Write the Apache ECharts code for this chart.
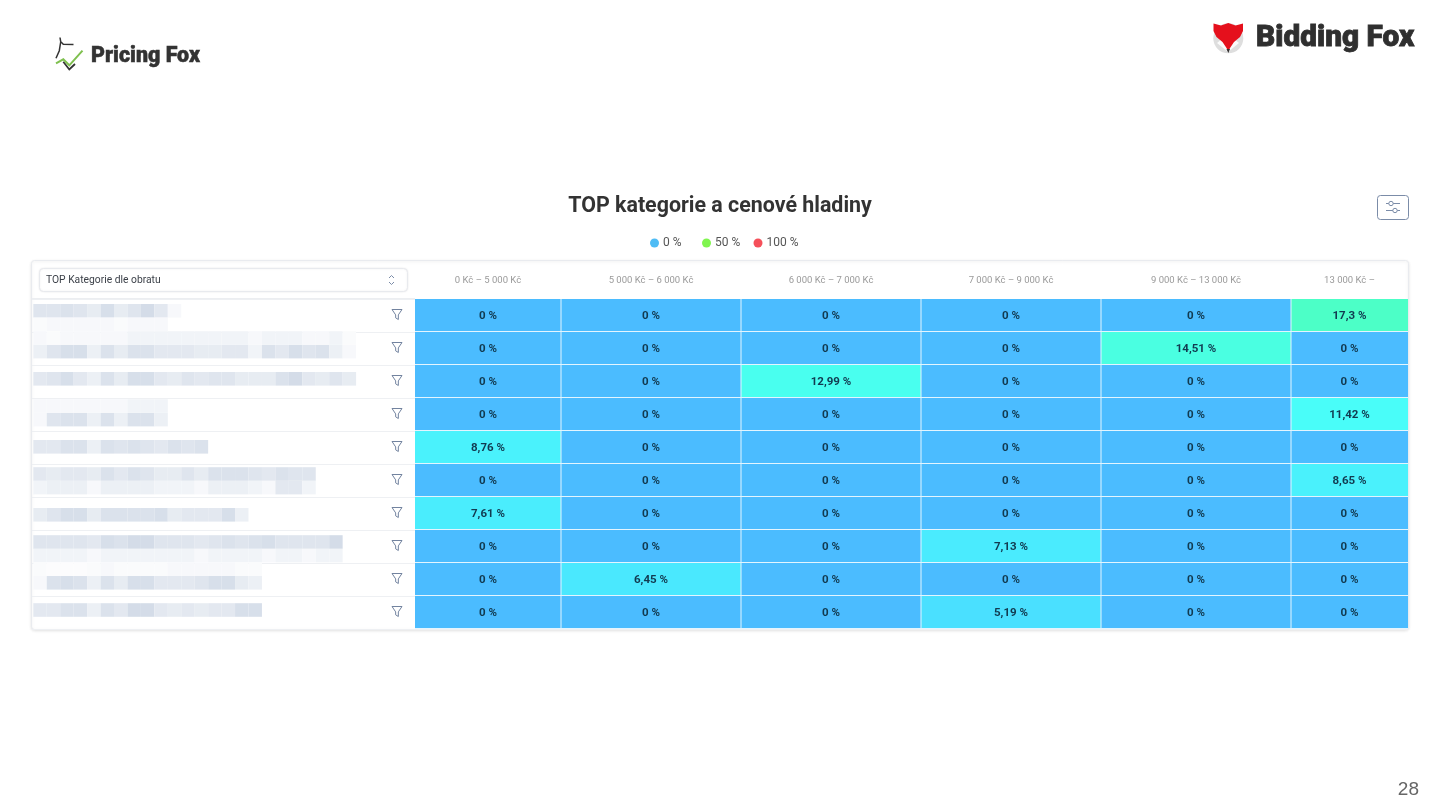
<!DOCTYPE html>
<html><head><meta charset="utf-8">
<style>html,body{margin:0;padding:0;background:#fff}#c{width:1440px;height:810px}</style>
<script src="https://cdn.jsdelivr.net/npm/echarts@6/dist/echarts.min.js"></script>
</head><body><div id="c"></div>
<script>
// ---- data ----
const priceBands = ['0 Kč – 5 000 Kč','5 000 Kč – 6 000 Kč','6 000 Kč – 7 000 Kč','7 000 Kč – 9 000 Kč','9 000 Kč – 13 000 Kč','13 000 Kč –'];
const bandEdges = [0,146,326,506,686,876,993];           // column boundaries on the x axis
const categories = ['Kategorie 1','Kategorie 2','Kategorie 3','Kategorie 4','Kategorie 5','Kategorie 6','Kategorie 7','Kategorie 8','Kategorie 9','Kategorie 10'];
const shares = [
  [0,0,0,0,0,17.3],
  [0,0,0,0,14.51,0],
  [0,0,12.99,0,0,0],
  [0,0,0,0,0,11.42],
  [8.76,0,0,0,0,0],
  [0,0,0,0,0,8.65],
  [7.61,0,0,0,0,0],
  [0,0,0,7.13,0,0],
  [0,6.45,0,0,0,0],
  [0,0,0,5.19,0,0]
];
const legendItems = ['0 %','50 %','100 %'];
const legendColors = ['#4ebcf5','#80f54f','#f5505a'];
const scaleColors = ['#4bbcff','#4ae6ff','#49fff8','#4cffc0'];
const scaleMax = 18;
// pixelated (censored) row names: band index + tile shades 0-10
const maskBands = [0,3,5,8,10,12,15,17,20,22];
const maskShades = [
  [6,6,7,6,4,8,4,6,9,5,1],
  [3,6,8,8,3,7,4,7,7,5,5,5,4,4,5,5,2,7,5,8,6,7,3,1],
  [5,6,8,5,3,7,4,8,8,5,4,6,5,6,6,4,4,4,7,9,5,4,6,4],
  [1,6,7,7,3,7,3,7,7,3],
  [5,5,7,7,3,7,6,7,6,5,7,6,7],
  [5,4,5,5,4,7,5,7,6,4,4,6,4,7,7,7,6,5,7,6,6],
  [4,6,8,8,4,7,7,7,7,8,4,5,5,5,8,3],
  [6,6,6,6,5,8,7,9,9,6,6,6,5,6,7,6,7,8,6,6,6,6,9],
  [1,7,8,7,3,7,4,8,8,5,5,5,6,8,8,4,3],
  [5,5,7,7,3,7,5,9,9,5,4,5,4,5,5,8,8]
];
const faintBands = [1,2,7,13,18,19];
const faintShades = [
  [.5,1,1,1,1,1,.5,1,1,1],
  [1,.5,1,1,1,1,1,2,2,2,2,2,2,2,2,2,1,2,2,2,1,1,2,.5],
  [1,1,1,1,1,1,1,2,2,2],
  [2,3,3,3,1,3,3,3,3,2,2,2,1,3,3,3,2,1,5,5,2],
  [2,2,2,2,1,2,2,2,2,2,2,2,1,2,2,2,2,1,2,2,1,2,2],
  [.5,.3,.3,.3,.5,1,.5,.5,.5,.5,1,1,1,1,1,.5,.5]
];

// ---- build series data ----
const cells = [];
shares.forEach((row,r)=>row.forEach((v,c)=>cells.push([bandEdges[c],bandEdges[c+1],r,v])));
const bandCentres = priceBands.map((_,i)=>(bandEdges[i]+bandEdges[i+1])/2);
const tiles = [];
maskBands.forEach((b,i)=>maskShades[i].forEach((s,t)=>tiles.push([t,b,s])));
faintBands.forEach((b,i)=>faintShades[i].forEach((s,t)=>tiles.push([t,b,s])));
const fmt = v => String(v).replace('.',',')+' %';
const shade = s => { const k=Math.pow(s/10,.75), m=(a,b)=>Math.round(a+(b-a)*k);
  return `rgb(${m(255,208)},${m(255,217)},${m(255,230)})`; };

const chart = echarts.init(document.getElementById('c'),null,{renderer:'canvas'});
const ROBOTO='Roboto, "Liberation Sans", sans-serif';
const slate='#7b8ca8';

const graphics = [
  // table card
  {type:'rect',z:0,shape:{x:31.5,y:260.5,width:1377,height:369,r:3},
   style:{fill:'#fff',stroke:'#e9ebef',lineWidth:1,shadowBlur:3,shadowOffsetY:1,shadowColor:'rgba(0,0,0,.10)'}},
  {type:'line',z:0,shape:{x1:32,y1:298.5,x2:415,y2:298.5},style:{stroke:'#eceef1',lineWidth:1}},
  // sort dropdown
  {type:'rect',z:1,shape:{x:39.5,y:268.5,width:368,height:23,r:4},
   style:{fill:'#fff',stroke:'#e8eaee',lineWidth:1,shadowBlur:2,shadowColor:'rgba(0,0,0,.08)'}},
  {type:'text',z:3,style:{x:46,y:280.5,text:'TOP Kategorie dle obratu',fill:'#3a3f47',font:'400 10.3px '+ROBOTO,textVerticalAlign:'middle'}},
  {type:'polyline',z:3,shape:{points:[[389,278],[391.5,275.5],[394,278]]},style:{stroke:slate,fill:'none',lineWidth:1}},
  {type:'polyline',z:3,shape:{points:[[389,282],[391.5,284.5],[394,282]]},style:{stroke:slate,fill:'none',lineWidth:1}},
  // settings button
  {type:'rect',z:3,shape:{x:1377.5,y:195.5,width:31,height:24,r:3},style:{fill:'#fff',stroke:slate,lineWidth:1}},
  {type:'line',z:4,shape:{x1:1386,y1:203.5,x2:1400,y2:203.5},style:{stroke:slate,lineWidth:1}},
  {type:'line',z:4,shape:{x1:1386,y1:210.5,x2:1400,y2:210.5},style:{stroke:slate,lineWidth:1}},
  {type:'circle',z:5,shape:{cx:1391,cy:203.5,r:2.2},style:{fill:'#fff',stroke:slate,lineWidth:1}},
  {type:'circle',z:5,shape:{cx:1395,cy:210.5,r:2.2},style:{fill:'#fff',stroke:slate,lineWidth:1}},
  // Pricing Fox logo
  {type:'polyline',z:3,shape:{points:[[60,37.5],[60.7,41.7],[63.3,44.3],[73.5,44.5]]},style:{stroke:'#333',fill:'none',lineWidth:1.5}},
  {type:'polyline',z:3,shape:{points:[[60.7,42],[59.3,50.7],[56,58.3]]},style:{stroke:'#333',fill:'none',lineWidth:1.5}},
  {type:'polyline',z:3,shape:{points:[[63.3,61.7],[69.3,69.5],[75,64]]},style:{stroke:'#333',fill:'none',lineWidth:1.8}},
  {type:'polyline',z:4,shape:{points:[[56,63.3],[63.3,59.3],[69.3,65.3],[82.5,50.7]]},style:{stroke:'#7fc04f',fill:'none',lineWidth:2}},
  {type:'text',z:3,style:{x:91,y:57,text:'Pricing Fox',fill:'#333',stroke:'#333',lineWidth:.5,font:'900 21.4px '+ROBOTO,textVerticalAlign:'middle'}},
  // Bidding Fox logo
  {type:'circle',z:3,shape:{cx:1228.3,cy:38.3,r:15},style:{fill:'#dedede'}},
  {type:'polygon',z:4,shape:{points:[[1217,43],[1228,52],[1239,43],[1228,34]]},style:{fill:'#fbfbfb'}},
  {type:'polygon',z:5,shape:{points:[[1213.5,23.5],[1221,25.5],[1228.3,23],[1235.5,25.5],[1243,23.5],[1243,31],[1240,37],[1234,42],[1230,48],[1228.3,51.5],[1226.5,48],[1222.5,42],[1216.5,37],[1213.5,31]]},style:{fill:'#e5101c'}},
  {type:'polygon',z:6,shape:{points:[[1226.5,49],[1230,49],[1228.3,53]]},style:{fill:'#333'}},
  {type:'text',z:3,style:{x:1256,y:39,text:'Bidding Fox',fill:'#2f2f2f',stroke:'#2f2f2f',lineWidth:.8,font:'900 29.8px '+ROBOTO,textVerticalAlign:'middle'}},
  // page number
  {type:'text',z:3,style:{x:1419,y:790,text:'28',fill:'#666',font:'19px "Liberation Sans", Arial, sans-serif',textAlign:'right',textVerticalAlign:'middle'}}
];

chart.setOption({
  animation:false,
  backgroundColor:'#fff',
  title:{text:'TOP kategorie a cenové hladiny',left:'center',top:191,
    textStyle:{fontFamily:ROBOTO,fontWeight:700,fontSize:21.4,color:'#333'}},
  legend:[645,697,748.5].map((left,i)=>({
    data:[legendItems[i]],left,top:232,itemWidth:9,itemHeight:9,icon:'circle',selectedMode:false,
    textStyle:{fontFamily:ROBOTO,fontSize:12,color:'#555',padding:[0,0,2,-1]}
  })),
  grid:[
    {left:32,top:299,width:1376,height:330,containLabel:false},
    {left:33.3,top:304,width:27*13.45,height:24*13.6}
  ],
  xAxis:[
    {type:'value',gridIndex:0,position:'top',min:-383,max:993,splitLine:{show:false},axisLine:{show:false},axisTick:{show:false},
     axisLabel:{customValues:bandCentres,formatter:v=>priceBands[bandCentres.indexOf(v)]||'',margin:13,fontFamily:ROBOTO,fontSize:9.5,color:'#9a9a9a'}},
    {type:'value',gridIndex:1,min:0,max:27,show:false}
  ],
  yAxis:[
    {type:'category',gridIndex:0,inverse:true,data:categories,axisLine:{show:false},axisTick:{show:false},axisLabel:{show:false},
     splitLine:{show:true,lineStyle:{color:'#eef0f3'}}},
    {type:'value',gridIndex:1,inverse:true,min:0,max:24,show:false}
  ],
  visualMap:{show:false,type:'continuous',seriesIndex:0,dimension:3,min:0,max:scaleMax,inRange:{color:scaleColors}},
  series:[
    {type:'custom',xAxisIndex:0,yAxisIndex:0,z:3,data:cells,encode:{x:[0,1],y:2},
     renderItem:(p,api)=>{
       const a=api.coord([api.value(0),api.value(2)]), b=api.coord([api.value(1),api.value(2)]);
       const h=api.size([0,1])[1], v=api.value(3);
       const x=Math.round(a[0]), w=Math.round(b[0])-x, y=Math.round(a[1]-h/2), hh=Math.round(a[1]+h/2)-y;
       const kids=[{type:'rect',shape:{x,y,width:w,height:hh},style:{fill:api.visual('color')}},
         {type:'line',shape:{x1:x,y1:y+hh-.5,x2:x+w,y2:y+hh-.5},style:{stroke:'#e3f5ff',lineWidth:1},z2:2},
         {type:'text',z2:3,style:{x:x+w/2,y:a[1]+.5,text:fmt(v),textAlign:'center',textVerticalAlign:'middle',
           fill:'#123a50',font:'700 11.5px '+ROBOTO}}];
       if(api.value(1)<993) kids.push({type:'line',shape:{x1:x+w,y1:y,x2:x+w,y2:y+hh},style:{stroke:'#e3f5ff',lineWidth:1},z2:2});
       return {type:'group',children:kids};
     }},
    {type:'scatter',xAxisIndex:0,yAxisIndex:0,z:4,silent:true,symbol:'path://M0,0 L12,0 L7.6,6.2 L7.6,11.5 L4.4,9.6 L4.4,6.2 Z',symbolSize:[10,10],symbolOffset:[0,-1],
     data:categories.map(c=>[-18,c]),itemStyle:{color:'rgba(255,255,255,0)',borderColor:'#72839f',borderWidth:1,opacity:1}},
    {type:'custom',xAxisIndex:1,yAxisIndex:1,z:2,silent:true,data:tiles,encode:{x:0,y:1},clip:false,
     renderItem:(p,api)=>{
       const a=api.coord([api.value(0),api.value(1)]), b=api.coord([api.value(0)+1,api.value(1)+1]);
       return {type:'rect',shape:{x:a[0],y:a[1],width:b[0]-a[0],height:b[1]-a[1]},style:{fill:shade(api.value(2))}};
     }},
    ...legendItems.map((n,i)=>({type:'scatter',name:n,data:[],itemStyle:{color:legendColors[i],opacity:1}}))
  ],
  graphic:graphics
});
</script></body></html>
